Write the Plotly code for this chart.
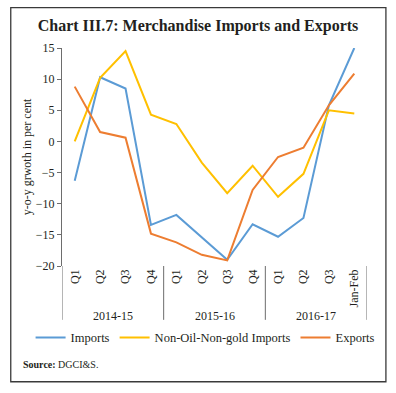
import plotly.graph_objects as go

years = ["2014-15"] * 4 + ["2015-16"] * 4 + ["2016-17"] * 4
periods = ["Q1", "Q2", "Q3", "Q4", "Q1", "Q2", "Q3", "Q4", "Q1", "Q2", "Q3", "Jan-Feb"]

imports = [-6.3, 10.3, 8.5, -13.4, -11.8, -15.4, -19.0, -13.3, -15.3, -12.3, 5.8, 15.0]
non_oil_non_gold = [0.0, 10.2, 14.5, 4.3, 2.8, -3.4, -8.3, -3.9, -8.9, -5.2, 5.0, 4.5]
exports = [8.8, 1.5, 0.6, -14.8, -16.2, -18.2, -19.1, -7.8, -2.5, -1.0, 5.8, 10.9]

y_ticks = [15, 10, 5, 0, -5, -10, -15, -20]

FONT = "Liberation Serif"
TXT = "#231f20"
AX = "#6d6d6d"

n = len(periods)
xs = list(range(n))

fig = go.Figure()
fig.add_trace(go.Scatter(x=xs, y=imports, mode="lines", name="Imports",
                         line=dict(color="#5b9bd5", width=2)))
fig.add_trace(go.Scatter(x=xs, y=non_oil_non_gold, mode="lines", name="Non-Oil-Non-gold Imports",
                         line=dict(color="#ffc000", width=2)))
fig.add_trace(go.Scatter(x=xs, y=exports, mode="lines", name="Exports",
                         line=dict(color="#ed7d31", width=2)))

fig.update_layout(
    width=396, height=393,
    margin=dict(l=62, r=29, t=48, b=127),
    paper_bgcolor="white", plot_bgcolor="white",
    font=dict(family=FONT, size=12, color=TXT),
    title=dict(text="<b>Chart III.7: Merchandise Imports and Exports</b>",
               x=0.5, xanchor="center", y=1 - 25 / 393, yanchor="middle",
               font=dict(family=FONT, size=16, color=TXT)),
    showlegend=True,
    legend=dict(orientation="h", x=-0.103, xanchor="left", y=-0.33, yanchor="middle",
                font=dict(family=FONT, size=12.5, color=TXT), itemwidth=30,
                tracegroupgap=0, bgcolor="rgba(0,0,0,0)"),
    xaxis=dict(range=[-0.5, n - 0.5], tickvals=xs, ticktext=periods,
               showline=False, ticks="", tickangle=-90,
               showgrid=False, zeroline=False,
               tickfont=dict(family=FONT, size=12, color=TXT)),
    xaxis2=dict(overlaying="x", anchor="free", position=20 / 35, side="bottom",
                range=[-0.5, n - 0.5], tickvals=[i - 0.5 for i in range(n + 1)],
                ticks="outside", ticklen=4, tickcolor=AX, showline=True,
                linecolor=AX, linewidth=1, showticklabels=False,
                showgrid=False, zeroline=False),
    yaxis=dict(range=[-20, 15], tickvals=y_ticks, showline=True, linecolor=AX,
               linewidth=1, ticks="outside", ticklen=4, tickcolor=AX,
               showgrid=False, zeroline=False,
               title=dict(text="y-o-y grwoth in per cent", standoff=1,
                          font=dict(family=FONT, size=12, color=TXT)),
               tickfont=dict(family=FONT, size=12, color=TXT)),
)

# group labels and dividers derived from the year categories
groups = []
for i, yr in enumerate(years):
    if not groups or groups[-1][0] != yr:
        groups.append([yr, i, i])
    else:
        groups[-1][2] = i

bounds = sorted({g[1] - 0.5 for g in groups} | {g[2] + 0.5 for g in groups})
for b in bounds:
    fig.add_shape(type="line", xref="x", yref="paper", x0=b, x1=b, y0=0, y1=-0.247,
                  line=dict(color=AX, width=1))
for yr, i0, i1 in groups:
    fig.add_annotation(text=yr, xref="x", yref="paper", x=(i0 + i1) / 2, y=-0.229,
                       xanchor="center", yanchor="middle", showarrow=False,
                       font=dict(family=FONT, size=12, color=TXT))

fig.add_annotation(text="<b>Source:</b> DGCI&S.", xref="paper", yref="paper",
                   x=-0.134, y=-0.453, xanchor="left", yanchor="middle",
                   showarrow=False, font=dict(family=FONT, size=10, color=TXT))

fig.add_shape(type="rect", xref="paper", yref="paper",
              x0=-0.168, x1=1.062, y0=-0.531, y1=1.185,
              line=dict(color="#3a3a3a", width=1.3), fillcolor="rgba(0,0,0,0)", layer="below")

fig.write_html("out.html", config={"displayModeBar": False},
               post_script="document.body.style.margin='0px';")
